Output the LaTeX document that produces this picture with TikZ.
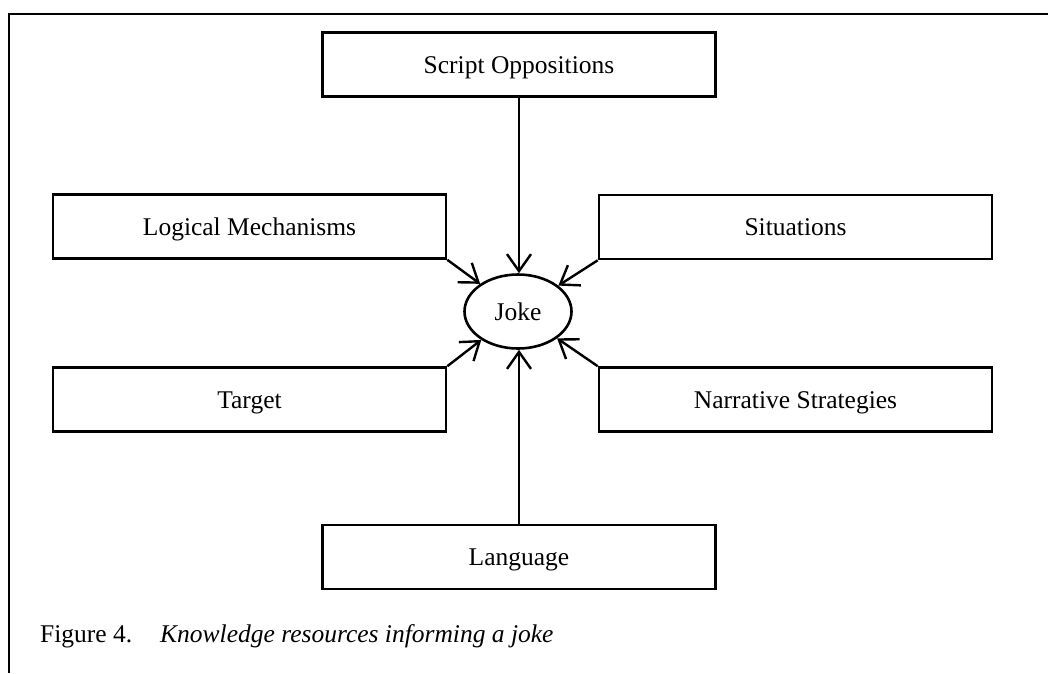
\documentclass[tikz,border=0pt]{standalone}
\usepackage{fontspec}
\setmainfont{Liberation Serif}
\usetikzlibrary{shapes.geometric,arrows.meta}
\begin{document}
\begin{tikzpicture}[x=1pt,y=-1pt,
  box/.style={draw,line width=2.6pt,minimum width=393pt,minimum height=64pt,inner sep=0pt,
    font=\fontsize{25.5}{30}\selectfont,text height=17pt,text depth=0pt},
  jokeshape/.style={draw,ellipse,line width=2.6pt,minimum width=107pt,minimum height=74pt,inner sep=0pt,
    font=\fontsize{25.5}{30}\selectfont,text height=17pt,text depth=0pt},
  conn/.style={line width=2.4pt,-{Straight Barb[length=17pt,width=24pt,line width=2.4pt]}},
  captxt/.style={anchor=base west,inner sep=0pt,font=\fontsize{25.5}{30}\selectfont}]
\useasboundingbox (0,0) rectangle (1048,673);
% frame (partially visible)
\draw[line width=2.6pt] (9,673) -- (9,14) -- (1048,14);
% nodes
\node[box] (so)   at (519,64.5)  {Script Oppositions};
\node[box] (lm)   at (249.5,226.5) {Logical Mechanisms};
\node[box] (sit)  at (795.5,227) {Situations};
\node[box] (tgt)  at (249.5,399.5) {Target};
\node[box] (ns)   at (795.5,399.5) {Narrative Strategies};
\node[box] (lang) at (519,557) {Language};
\node[jokeshape] (joke) at (518,311.5) {Joke};
% connectors
\draw[conn] (so.south) -- (so.south |- joke.north);
\draw[conn] (lang.north) -- (lang.north |- joke.south);
\draw[conn] (lm.south east) -- (joke);
\draw[conn] (sit.south west) -- (joke);
\draw[conn] (tgt.north east) -- (joke);
\draw[conn] (ns.north west) -- (joke);
% caption
\node[captxt] (capA) at (40,642) {Figure 4.};
\node[captxt] (capB) at (160,642) {\itshape Knowledge resources informing a joke};
\end{tikzpicture}
\end{document}
